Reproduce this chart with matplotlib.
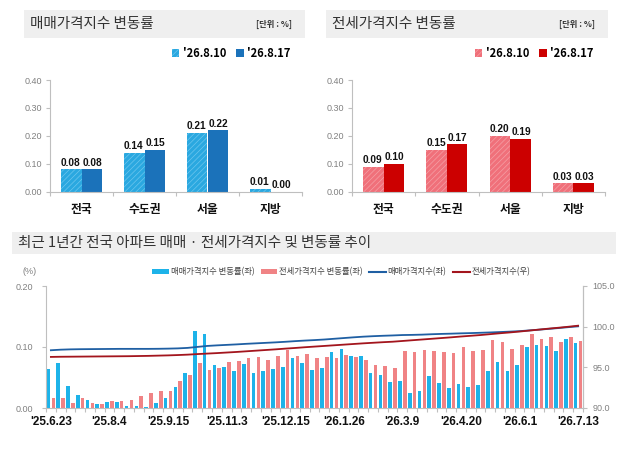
import numpy as np
import matplotlib.pyplot as plt
from matplotlib.patches import Rectangle, Patch
from matplotlib.lines import Line2D

plt.rcParams['font.family'] = ['Noto Sans CJK KR', 'DejaVu Sans']
plt.rcParams['hatch.linewidth'] = 0.5

NUM_FONT = ['Liberation Sans Narrow', 'Liberation Sans', 'DejaVu Sans']

# top panels: weekly change (%) by region
regions = ['전국', '수도권', '서울', '지방']
week_dates = ["'26.8.10", "'26.8.17"]
sale_prev = [0.08, 0.14, 0.21, 0.01]
sale_curr = [0.08, 0.15, 0.22, 0.00]
jeonse_prev = [0.09, 0.15, 0.20, 0.03]
jeonse_curr = [0.10, 0.17, 0.19, 0.03]

# bottom panel: last year, weekly
tick_labels = ["'25.6.23", "'25.8.4", "'25.9.15", "'25.11.3", "'25.12.15",
               "'26.1.26", "'26.3.9", "'26.4.20", "'26.6.1", "'26.7.13"]
sale_rate = [0.064, 0.073, 0.036, 0.021, 0.013, 0.006, 0.010, 0.010, 0.003, 0.004,
             0.001, 0.008, 0.016, 0.034, 0.058, 0.126, 0.122, 0.070, 0.068, 0.060,
             0.072, 0.058, 0.060, 0.064, 0.068, 0.082, 0.074, 0.063, 0.066, 0.092,
             0.097, 0.086, 0.085, 0.057, 0.054, 0.042, 0.045, 0.024, 0.028, 0.052,
             0.041, 0.033, 0.040, 0.034, 0.037, 0.061, 0.076, 0.060, 0.070, 0.100,
             0.103, 0.101, 0.094, 0.113, 0.107]
jeonse_rate = [0.016, 0.016, 0.008, 0.016, 0.008, 0.007, 0.011, 0.012, 0.013, 0.020,
               0.024, 0.028, 0.028, 0.044, 0.054, 0.074, 0.062, 0.066, 0.076, 0.077,
               0.082, 0.083, 0.078, 0.086, 0.095, 0.085, 0.089, 0.082, 0.083, 0.082,
               0.087, 0.083, 0.079, 0.070, 0.069, 0.066, 0.093, 0.091, 0.095, 0.094,
               0.092, 0.090, 0.100, 0.093, 0.095, 0.111, 0.109, 0.096, 0.104, 0.121,
               0.113, 0.117, 0.109, 0.117, 0.110]
sale_index = [97.10, 97.17, 97.21, 97.23, 97.24, 97.25, 97.26, 97.27, 97.27, 97.27,
              97.27, 97.28, 97.30, 97.33, 97.39, 97.51, 97.63, 97.70, 97.76, 97.82,
              97.89, 97.95, 98.01, 98.07, 98.14, 98.22, 98.29, 98.35, 98.42, 98.51,
              98.60, 98.69, 98.77, 98.83, 98.88, 98.92, 98.97, 98.99, 99.02, 99.07,
              99.11, 99.14, 99.18, 99.21, 99.25, 99.29, 99.34, 99.39, 99.45, 99.54,
              99.63, 99.73, 99.83, 99.94, 100.04]
jeonse_index = [96.28, 96.30, 96.31, 96.32, 96.33, 96.34, 96.35, 96.36, 96.37, 96.39,
                96.41, 96.44, 96.47, 96.51, 96.56, 96.63, 96.69, 96.75, 96.82, 96.89,
                96.97, 97.05, 97.13, 97.21, 97.30, 97.38, 97.47, 97.55, 97.63, 97.71,
                97.79, 97.87, 97.95, 98.02, 98.09, 98.15, 98.24, 98.33, 98.42, 98.51,
                98.60, 98.69, 98.79, 98.88, 98.97, 99.08, 99.19, 99.29, 99.40, 99.52,
                99.64, 99.76, 99.87, 99.99, 100.12]

GRID_GRAY = '#BFBFBF'
LABEL_GRAY = '#808080'
BAND_GRAY = '#EFEFEF'


def px_rect(x0, y0, x1, y1):
    """pixel box (top-left origin) -> figure fraction rect"""
    W, H = 641, 455
    return [x0 / W, 1 - y1 / H, (x1 - x0) / W, (y1 - y0) / H]


def add_band(fig, x0, y0, x1, y1):
    r = px_rect(x0, y0, x1, y1)
    fig.add_artist(Rectangle((r[0], r[1]), r[2], r[3], transform=fig.transFigure,
                             facecolor=BAND_GRAY, edgecolor='none', zorder=0))


def change_panel(fig, x0, x1, title, prev, curr, light, light_hatch, dark):
    add_band(fig, x0 - 26, 10, x1 + 3, 38)
    fig.text((x0 - 20) / 641, 1 - 24 / 455, title, fontsize=10.5, color='#333333',
             fontweight='medium', va='center', ha='left')
    fig.text((x1 - 10) / 641, 1 - 24 / 455, '[단위 : %]', fontsize=6, color='#333333',
             fontweight='bold', va='center', ha='right')

    ax = fig.add_axes(px_rect(x0, 80, x1, 191.7))
    x = np.arange(len(regions))
    w = 0.325
    ax.bar(x - w / 2, prev, w, color=light, hatch='//////', edgecolor=light_hatch,
           linewidth=0)
    ax.bar(x + w / 2, curr, w, color=dark, linewidth=0)
    for xi, v in zip(x - w / 2, prev):
        ax.text(xi - 0.01, v + 0.006, f'{v:.2f}', ha='center', va='bottom', fontsize=7.3,
                fontweight='bold', family=NUM_FONT, color='#111111')
    for xi, v in zip(x + w / 2, curr):
        ax.text(xi + 0.01, v + 0.006, f'{v:.2f}', ha='center', va='bottom', fontsize=7.3,
                fontweight='bold', family=NUM_FONT, color='#111111')

    ax.set_xlim(-0.5, len(regions) - 0.5)
    ax.set_ylim(0, 0.40)
    ax.set_yticks([0, 0.1, 0.2, 0.3, 0.4])
    ax.set_yticklabels([f'{v:.2f}' for v in [0, 0.1, 0.2, 0.3, 0.4]],
                       family=NUM_FONT, fontsize=6.5, color=LABEL_GRAY)
    ax.set_xticks(x)
    ax.set_xticklabels(regions, fontsize=8.5, fontweight='bold', color='#111111')
    ax.set_xticks(np.arange(-0.5, len(regions)), minor=True)
    ax.tick_params(axis='x', which='major', length=0, pad=8)
    ax.tick_params(axis='x', which='minor', length=3, color=GRID_GRAY, width=0.8)
    ax.tick_params(axis='y', length=3, color=GRID_GRAY, width=0.8, pad=3)
    for s in ['top', 'right']:
        ax.spines[s].set_visible(False)
    for s in ['left', 'bottom']:
        ax.spines[s].set_color(GRID_GRAY)
        ax.spines[s].set_linewidth(0.8)

    handles = [Patch(facecolor=light, hatch='//////', edgecolor=light_hatch, linewidth=0),
               Patch(facecolor=dark, linewidth=0)]
    ax.legend(handles, week_dates, loc='center right', bbox_to_anchor=(0.955, 1.235),
              ncol=2, frameon=False, handlelength=0.7, handleheight=0.7,
              handletextpad=0.3, columnspacing=0.9, borderpad=0, borderaxespad=0,
              prop={'size': 8, 'weight': 'bold', 'family': ['Noto Sans CJK KR']})
    return ax


fig = plt.figure(figsize=(6.41, 4.55), dpi=100)

change_panel(fig, 50, 302, '매매가격지수 변동률', sale_prev, sale_curr,
             '#2AA8E0', '#6CC6EE', '#1B72BA')
change_panel(fig, 352, 605, '전세가격지수 변동률', jeonse_prev, jeonse_curr,
             '#F0707A', '#F5A0A6', '#CC0000')

# bottom panel
add_band(fig, 12, 232, 616, 254)
fig.text(18 / 641, 1 - 243 / 455, '최근 1년간 전국 아파트 매매 · 전세가격지수 및 변동률 추이',
         fontsize=10.5, color='#333333', fontweight='medium', va='center', ha='left')

ax = fig.add_axes(px_rect(46, 286, 583, 408))
n = len(sale_rate)
x = np.arange(n)
ax.bar(x - 0.25, sale_rate, 0.37, color='#1DB3E9', linewidth=0)
ax.bar(x + 0.25, jeonse_rate, 0.37, color='#F08385', linewidth=0)
ax.set_xlim(-0.5, n - 0.5)
ax.set_ylim(0, 0.20)
ax.set_yticks([0, 0.1, 0.2])
ax.set_yticklabels(['0.00', '0.10', '0.20'], family=NUM_FONT, fontsize=6.5,
                   color=LABEL_GRAY)
ax.set_xticks(np.arange(0, n, 6))
ax.set_xticklabels(tick_labels, fontsize=8.5, fontweight='bold', family=NUM_FONT,
                   color='#111111')
ax.set_xticks(np.arange(-0.5, n), minor=True)
ax.tick_params(axis='x', which='major', length=0, pad=6)
ax.tick_params(axis='x', which='minor', length=3, color=GRID_GRAY, width=0.8)
ax.tick_params(axis='y', length=3, color=GRID_GRAY, width=0.8, pad=6)
ax.spines['top'].set_visible(False)
for s in ['left', 'bottom', 'right']:
    ax.spines[s].set_color(GRID_GRAY)
    ax.spines[s].set_linewidth(0.8)

ax2 = ax.twinx()
ax2.plot(x, sale_index, color='#1F5FA3', linewidth=1.3)
ax2.plot(x, jeonse_index, color='#A3151D', linewidth=1.3)
ax2.set_ylim(90, 105)
ax2.set_yticks([90, 95, 100, 105])
ax2.set_yticklabels(['90.0', '95.0', '100.0', '105.0'], family=NUM_FONT, fontsize=6.5,
                    color=LABEL_GRAY)
ax2.tick_params(axis='y', length=3, color=GRID_GRAY, width=0.8, pad=4)
for s in ['top', 'left', 'bottom']:
    ax2.spines[s].set_visible(False)
ax2.spines['right'].set_color(GRID_GRAY)
ax2.spines['right'].set_linewidth(0.8)

fig.text(30 / 641, 1 - 272 / 455, '(%)', fontsize=6.5, color=LABEL_GRAY,
         ha='center', va='center', family=NUM_FONT)

leg_handles = [Patch(facecolor='#1DB3E9'), Patch(facecolor='#F08385'),
               Line2D([], [], color='#1F5FA3', linewidth=1.5),
               Line2D([], [], color='#A3151D', linewidth=1.5)]
leg_labels = ['매매가격지수 변동률(좌)', '전세가격지수 변동률(좌)', '매매가격지수(좌)', '전세가격지수(우)']
ax2.legend(leg_handles, leg_labels, ncol=4, loc='center', bbox_to_anchor=(0.55, 1.115),
           frameon=False, fontsize=6, handlelength=2.0, handleheight=0.5,
           handletextpad=0.2, columnspacing=0.8, labelcolor='#404040')

fig.savefig('out.png', dpi=100)
